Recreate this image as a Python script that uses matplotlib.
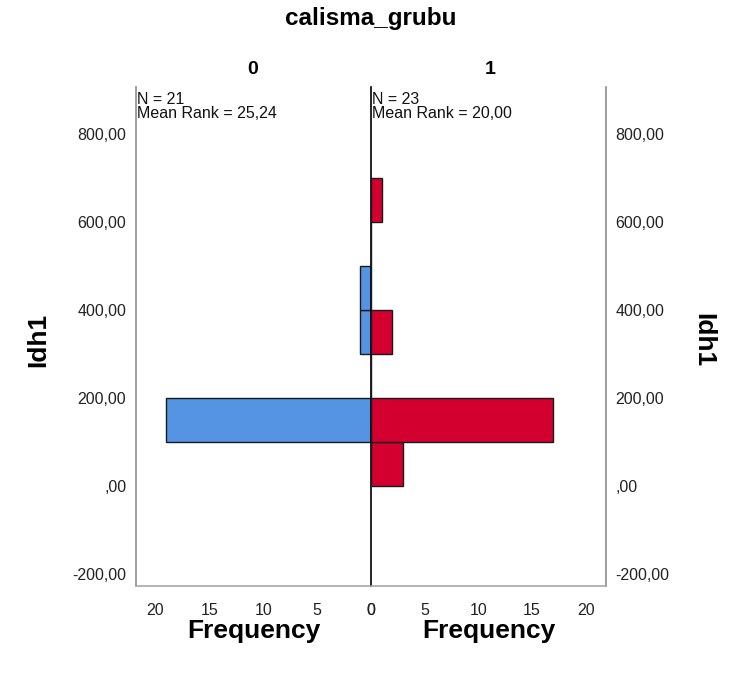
import matplotlib.pyplot as plt
from matplotlib.ticker import FuncFormatter

plt.rcParams['font.family'] = ['Liberation Sans', 'DejaVu Sans']

# histogram bins of Idh1 (lower edges, width 100)
bin_starts = [0, 100, 200, 300, 400, 500, 600]
bin_width = 100
freq_group0 = [0, 19, 0, 1, 1, 0, 0]
freq_group1 = [3, 17, 0, 2, 0, 0, 1]
group_labels = ["0", "1"]
group_info = ["N = 21\nMean Rank = 25,24", "N = 23\nMean Rank = 20,00"]
y_ticks = [-200, 0, 200, 400, 600, 800]
x_ticks = [0, 5, 10, 15, 20]

BLUE = "#5594e2"
RED = "#d3002f"
GRAY = "#8c8c8c"


def spss_fmt(v, pos):
    s = f"{v:.2f}".replace(".", ",")
    if s.startswith("0,"):
        s = s[1:]
    return s


fig = plt.figure(figsize=(7.33, 6.79), dpi=100)
W, H = 733, 679
x0, xc, x1 = 136, 371, 606
ytop, ybot = 87, 586
ax_l = fig.add_axes([x0 / W, 1 - ybot / H, (xc - x0) / W, (ybot - ytop) / H])
ax_r = fig.add_axes([xc / W, 1 - ybot / H, (x1 - xc) / W, (ybot - ytop) / H])

ylim = (-227, 907)
for ax, freqs, color in [(ax_l, freq_group0, BLUE), (ax_r, freq_group1, RED)]:
    ax.barh(bin_starts, freqs, height=bin_width, align="edge", color=color,
            edgecolor="#1a1a1a", linewidth=1.0, zorder=2)
    ax.set_ylim(*ylim)
    ax.set_yticks(y_ticks)
    ax.yaxis.set_major_formatter(FuncFormatter(spss_fmt))
    ax.set_xticks(x_ticks)
    ax.tick_params(length=0, labelsize=11.5, colors="#222222")
    ax.tick_params(axis="x", pad=12)
    ax.tick_params(axis="y", pad=7)
    ax.spines["top"].set_visible(False)
    ax.set_facecolor("none")

ax_l.set_xlim(21.8, 0)
ax_r.set_xlim(0, 21.9)

ax_l.spines["left"].set_color(GRAY)
ax_l.spines["bottom"].set_color("#a8a8a8")
ax_l.spines["right"].set_color("black")
ax_l.spines["right"].set_zorder(3)
ax_r.spines["left"].set_visible(False)
ax_r.spines["right"].set_color(GRAY)
ax_r.spines["bottom"].set_color("#a8a8a8")
ax_r.yaxis.tick_right()
for ax in (ax_l, ax_r):
    for sp in ax.spines.values():
        sp.set_linewidth(1.2)

# group info in top-left corner of each panel
for ax, info in [(ax_l, group_info[0]), (ax_r, group_info[1])]:
    ax.text(0.005, 0.99, info, transform=ax.transAxes, ha="left", va="top",
            fontsize=11.5, linespacing=0.95, color="#111111")

fig.text(xc / W, 1 - 18 / H, "calisma_grubu", ha="center", va="center",
         fontsize=17.5, fontweight="bold")
fig.text(253 / W, 1 - 70 / H, group_labels[0], ha="center", va="center",
         fontsize=14, fontweight="bold")
fig.text(490 / W, 1 - 70 / H, group_labels[1], ha="center", va="center",
         fontsize=14, fontweight="bold")
fig.text(254 / W, 1 - 631 / H, "Frequency", ha="center", va="center",
         fontsize=19, fontweight="bold")
fig.text(489 / W, 1 - 631 / H, "Frequency", ha="center", va="center",
         fontsize=19, fontweight="bold")
fig.text(38 / W, 1 - 340 / H, "Idh1", ha="center", va="center",
         rotation=90, fontsize=19, fontweight="bold")
fig.text(703 / W, 1 - 340 / H, "Idh1", ha="center", va="center",
         rotation=270, fontsize=19, fontweight="bold")

fig.savefig("out.png", dpi=100)
